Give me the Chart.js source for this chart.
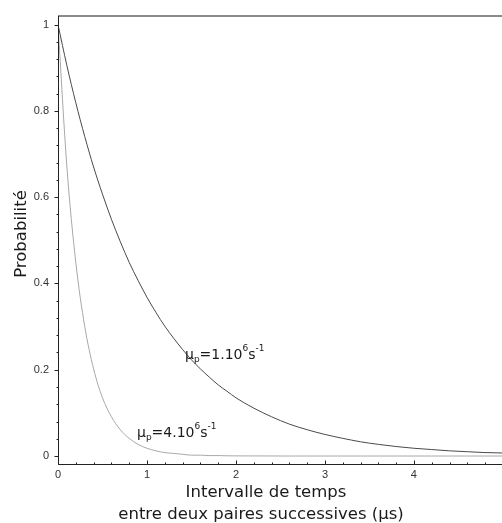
<!DOCTYPE html>
<html>
<head>
<meta charset="utf-8">
<script src="https://cdn.jsdelivr.net/npm/chart.js@4"></script>
<style>
  html, body { margin: 0; padding: 0; background: #fff; }
  #wrap { width: 502px; height: 523px; }
</style>
</head>
<body>
<div id="wrap"><canvas id="chart" width="502" height="523"></canvas></div>
<script>
// time in microseconds
const times = [0, 0.1, 0.2, 0.3, 0.4, 0.5, 0.6, 0.7, 0.8, 0.9, 1.0,
  1.1, 1.2, 1.3, 1.4, 1.5, 1.6, 1.7, 1.8, 1.9, 2.0,
  2.2, 2.4, 2.6, 2.8, 3.0, 3.2, 3.4, 3.6, 3.8, 4.0,
  4.2, 4.4, 4.6, 4.8, 5.0];

// mu_p = 1.10^6 s^-1
const probSlow = [1, 0.905, 0.819, 0.741, 0.670, 0.607, 0.549, 0.497, 0.449, 0.407, 0.368,
  0.333, 0.301, 0.273, 0.247, 0.223, 0.202, 0.183, 0.165, 0.150, 0.135,
  0.111, 0.091, 0.074, 0.061, 0.050, 0.041, 0.033, 0.027, 0.022, 0.018,
  0.015, 0.012, 0.010, 0.008, 0.007];

// mu_p = 4.10^6 s^-1
const probFast = [1, 0.670, 0.449, 0.301, 0.202, 0.135, 0.091, 0.061, 0.041, 0.027, 0.018,
  0.012, 0.008, 0.006, 0.004, 0.002, 0.002, 0.001, 0.001, 0.0005, 0.0003,
  0.0002, 0.0001, 0, 0, 0, 0, 0, 0, 0, 0,
  0, 0, 0, 0, 0];

const xTicks = [0, 1, 2, 3, 4];
const yTicks = [0, 0.2, 0.4, 0.6, 0.8, 1];

const toPoints = (ys) => times.map((t, i) => ({ x: t, y: ys[i] }));
const fmt = (v) => String(Number(v.toFixed(1)));

// axes, minor ticks, titles and curve labels
const maplePlugin = {
    id: 'maple',
    afterDraw(chart) {
        const ctx = chart.ctx;
        const xs = chart.scales.x;
        const ys = chart.scales.y;
        const area = chart.chartArea;
        ctx.save();

        // top border line
        ctx.strokeStyle = '#8a8a8a';
        ctx.lineWidth = 2;
        ctx.beginPath();
        ctx.moveTo(area.left, area.top);
        ctx.lineTo(area.right, area.top);
        ctx.stroke();

        // axes
        ctx.strokeStyle = '#222';
        ctx.lineWidth = 1;
        const x0 = Math.round(xs.getPixelForValue(0)) + 0.5;
        const yb = Math.round(area.bottom) + 0.5;
        ctx.beginPath();
        ctx.moveTo(x0, area.top);
        ctx.lineTo(x0, yb);
        ctx.lineTo(area.right, yb);
        ctx.stroke();

        // y ticks
        ctx.beginPath();
        for (let v = 0; v <= 1.0001; v += 0.04) {
            const py = Math.round(ys.getPixelForValue(v)) + 0.5;
            const major = Math.abs(v * 5 - Math.round(v * 5)) < 1e-6;
            ctx.moveTo(x0, py);
            ctx.lineTo(x0 - (major ? 4 : 2), py);
        }
        // x ticks
        for (let v = 0; v <= 4.9; v += 0.2) {
            const px = Math.round(xs.getPixelForValue(v)) + 0.5;
            const major = Math.abs(v - Math.round(v)) < 1e-6;
            ctx.moveTo(px, yb);
            ctx.lineTo(px, yb - (major ? 4 : 2));
        }
        ctx.stroke();

        // axis titles
        ctx.fillStyle = '#1a1a1a';
        ctx.font = '16.5px "DejaVu Sans"';
        ctx.textAlign = 'center';
        ctx.textBaseline = 'alphabetic';
        ctx.fillText('Intervalle de temps', 266, 497);
        ctx.fillText('entre deux paires successives (\u00b5s)', 261, 519);
        ctx.save();
        ctx.translate(26, 234);
        ctx.rotate(-Math.PI / 2);
        ctx.fillText('Probabilit\u00e9', 0, 0);
        ctx.restore();

        // curve labels
        drawMu(ctx, 185, 359, '1');
        drawMu(ctx, 137, 437, '4');
        ctx.restore();
    }
};

function drawMu(ctx, x, y, n) {
    ctx.textAlign = 'left';
    ctx.fillStyle = '#1a1a1a';
    const big = '14px "DejaVu Sans"';
    const small = '9px "DejaVu Sans"';
    const parts = [
        ['\u00b5', big, 0],
        ['p', small, 3],
        ['=' + n + '.10', big, 0],
        ['6', small, -8],
        ['s', big, 0],
        ['-1', small, -8]
    ];
    let cx = x;
    parts.forEach(([txt, font, dy]) => {
        ctx.font = font;
        ctx.fillText(txt, cx, y + dy);
        cx += ctx.measureText(txt).width;
    });
}

new Chart(document.getElementById('chart'), {
    type: 'line',
    data: {
        datasets: [{
            label: 'mu 1',
            data: toPoints(probSlow),
            borderColor: '#4a4a4a',
            borderWidth: 1,
            pointRadius: 0,
            cubicInterpolationMode: 'monotone'
        }, {
            label: 'mu 4',
            data: toPoints(probFast),
            borderColor: '#a8a8a8',
            borderWidth: 1,
            pointRadius: 0,
            cubicInterpolationMode: 'monotone'
        }]
    },
    options: {
        responsive: false,
        animation: false,
        layout: { padding: { top: 16, right: 0, left: 0, bottom: 0 } },
        plugins: { legend: { display: false }, tooltip: { enabled: false } },
        scales: {
            x: {
                type: 'linear',
                min: 0,
                max: 4.99,
                grid: { display: false, drawTicks: false },
                border: { display: false },
                afterBuildTicks: (s) => { s.ticks = xTicks.map(v => ({ value: v })); },
                afterFit: (s) => { s.height = 59; },
                ticks: {
                    padding: 4,
                    color: '#333',
                    font: { family: '"Liberation Sans"', size: 11 },
                    maxRotation: 0,
                    callback: fmt
                }
            },
            y: {
                type: 'linear',
                min: -0.0185,
                max: 1.02,
                grid: { display: false, drawTicks: false },
                border: { display: false },
                afterBuildTicks: (s) => { s.ticks = yTicks.map(v => ({ value: v })); },
                afterFit: (s) => { s.width = 58; },
                ticks: {
                    padding: 9,
                    color: '#333',
                    font: { family: '"Liberation Sans"', size: 11 },
                    callback: fmt
                }
            }
        }
    },
    plugins: [maplePlugin]
});
</script>
</body>
</html>
